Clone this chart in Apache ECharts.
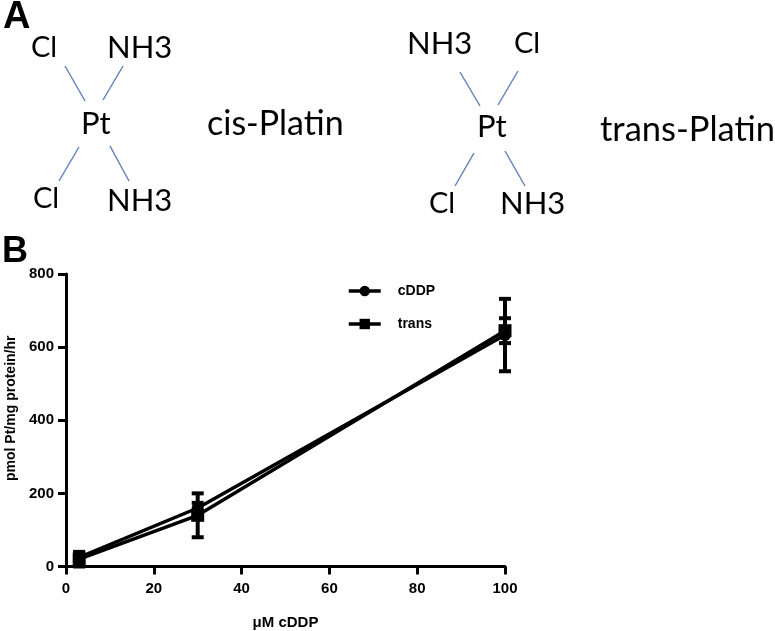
<!DOCTYPE html>
<html>
<head>
<meta charset="utf-8">
<title>Platinum uptake</title>
<script src="https://cdn.jsdelivr.net/npm/echarts@6/dist/echarts.min.js"></script>
<style>
  html, body { margin: 0; padding: 0; background: #fff; }
  #main { width: 775px; height: 631px; }
</style>
</head>
<body>
<div id="main"></div>
<script>
// values
var doses = [3, 30, 100];
var cddpValues = [25, 160, 633];
var cddpErrors = [12, 14, 99];
var transValues = [20, 140, 645];
var transErrors = [20, 60, 34];
var seriesNames = ['cDDP', 'trans'];
var xTitle = 'μM cDDP';
var yTitle = 'pmol Pt/mg protein/hr';

var chart = echarts.init(document.getElementById('main'));
var AXIS_FONT = '"Liberation Sans", Arial, sans-serif';
var DRAW_FONT = 'Lato, "Noto Sans", sans-serif';
var BOND = '#5b7fb5';

function points(values) {
  return doses.map(function (d, i) { return [d, values[i]]; });
}
function errorData(values, errors) {
  return doses.map(function (d, i) { return [d, values[i] - errors[i], values[i] + errors[i]]; });
}
function renderError(params, api) {
  var lo = api.coord([api.value(0), api.value(1)]);
  var hi = api.coord([api.value(0), api.value(2)]);
  var cap = 6;
  var style = { stroke: '#000', lineWidth: 4, fill: 'none' };
  return {
    type: 'group',
    children: [
      { type: 'line', shape: { x1: lo[0], y1: lo[1], x2: hi[0], y2: hi[1] }, style: style },
      { type: 'line', shape: { x1: lo[0] - cap, y1: lo[1], x2: lo[0] + cap, y2: lo[1] }, style: style },
      { type: 'line', shape: { x1: hi[0] - cap, y1: hi[1], x2: hi[0] + cap, y2: hi[1] }, style: style }
    ]
  };
}
function label(text, x, y, size, bold) {
  return {
    type: 'text', x: x, y: y,
    style: {
      text: text, fill: '#000', fontSize: size,
      fontFamily: bold ? AXIS_FONT : DRAW_FONT,
      fontWeight: bold ? 'bold' : 'normal',
      textVerticalAlign: 'middle'
    }
  };
}
function bond(x1, y1, x2, y2) {
  return { type: 'line', shape: { x1: x1, y1: y1, x2: x2, y2: y2 }, style: { stroke: BOND, lineWidth: 1.4 } };
}

chart.setOption({
  animation: false,
  backgroundColor: '#fff',
  grid: { left: 66, right: 270, top: 274, bottom: 64.5, outerBoundsMode: 'none' },
  legend: {
    orient: 'vertical', left: 342, top: 279,
    itemWidth: 32, itemHeight: 13, itemGap: 19,
    data: seriesNames,
    lineStyle: { width: 3.5 },
    textStyle: { fontFamily: AXIS_FONT, fontWeight: 'bold', fontSize: 14, color: '#000', padding: [0, 0, 0, 12] }
  },
  xAxis: {
    type: 'value', min: 0, max: 100, interval: 20,
    name: xTitle, nameLocation: 'middle', nameGap: 49,
    nameTextStyle: { fontFamily: AXIS_FONT, fontWeight: 'bold', fontSize: 15, color: '#000' },
    splitLine: { show: false },
    axisLine: { lineStyle: { color: '#000', width: 3 } },
    axisTick: { length: 8, lineStyle: { color: '#000', width: 3 } },
    axisLabel: {
      margin: 15, fontFamily: AXIS_FONT, fontWeight: 'bold', fontSize: 15, color: '#000',
      showMinLabel: true, showMaxLabel: true
    }
  },
  yAxis: {
    type: 'value', min: 0, max: 800, interval: 200,
    name: yTitle, nameLocation: 'middle', nameGap: 48,
    nameTextStyle: { fontFamily: AXIS_FONT, fontWeight: 'bold', fontSize: 14, color: '#000', padding: [0, 0, 0, 24] },
    splitLine: { show: false },
    axisLine: { lineStyle: { color: '#000', width: 3 } },
    axisTick: { length: 8, lineStyle: { color: '#000', width: 3 } },
    axisLabel: { margin: 12, fontFamily: AXIS_FONT, fontWeight: 'bold', fontSize: 15, color: '#000' }
  },
  series: [
    { type: 'custom', name: 'cDDP err', renderItem: renderError, data: errorData(cddpValues, cddpErrors), encode: { x: 0, y: [1, 2] }, z: 3, silent: true },
    { type: 'custom', name: 'trans err', renderItem: renderError, data: errorData(transValues, transErrors), encode: { x: 0, y: [1, 2] }, z: 3, silent: true },
    {
      type: 'line', name: seriesNames[0], data: points(cddpValues), symbol: 'circle', symbolSize: 12,
      lineStyle: { color: '#000', width: 3.5 }, itemStyle: { color: '#000' }, z: 4
    },
    {
      type: 'line', name: seriesNames[1], data: points(transValues), symbol: 'rect', symbolSize: 13,
      lineStyle: { color: '#000', width: 3.5 }, itemStyle: { color: '#000' }, z: 4
    }
  ],
  graphic: [
    label('A', 3, 18, 38, true),
    label('B', 2, 252, 36, true),
    // cis-Platin
    label('Cl', 31, 48, 29), label('NH3', 107, 48, 31),
    label('Pt', 81, 124, 31), label('cis-Platin', 207, 124, 34),
    label('Cl', 33, 199, 29), label('NH3', 107, 201, 31),
    bond(65, 66, 85, 101), bond(123, 66, 103, 100),
    bond(79, 147, 59, 181), bond(110, 146, 129, 181),
    // trans-Platin
    label('NH3', 407, 44, 31), label('Cl', 514, 44, 29),
    label('Pt', 477, 127, 31), label('trans-Platin', 600, 130, 34.5),
    label('Cl', 429, 204, 29), label('NH3', 500, 204, 31),
    bond(460, 72, 480, 106), bond(518, 71, 498, 105),
    bond(474, 153, 455, 186), bond(505, 151, 525, 186)
  ]
});
</script>
</body>
</html>
